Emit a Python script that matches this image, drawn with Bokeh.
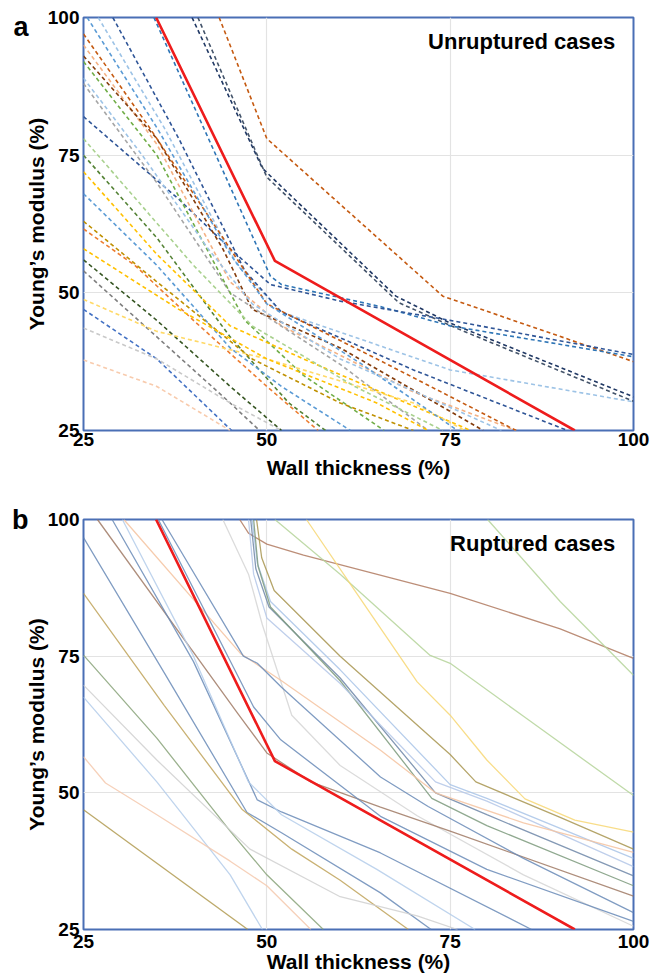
from bokeh.plotting import figure
from bokeh.layouts import column
from bokeh.models import Range1d, FixedTicker, Label, LinearAxis
from bokeh.embed import file_html
from bokeh.resources import INLINE

# ---------------- data ----------------
TICKS = [25, 50, 75, 100]
X_TITLE = "Wall thickness (%)"
Y_TITLE = "Young\u2019s modulus (%)"

# reference (red) curve, shared by both panels
RED_X = [34.9, 51.1, 92.0]
RED_Y = [100.0, 55.8, 25.0]

# panel a: unruptured cases (dashed)
UNRUPT_X = [
    [43.5, 50, 74, 100],
    [39.8, 49.4, 67.6, 75, 100],
    [40.6, 50, 68, 76, 100],
    [34.6, 50.5, 52, 65.5, 75, 100],
    [25, 38, 45, 50.5, 60, 75, 100],
    [27, 36, 46, 52, 75, 100],
    [29, 38, 47, 52, 70, 91],
    [25, 35, 45, 52, 70, 84],
    [25, 35, 44, 48, 60, 79.5],
    [25, 35, 45, 60, 72],
    [25, 35, 45, 47, 55, 66],
    [25, 35, 45, 53, 58],
    [25, 35, 45, 55, 77.8],
    [25, 35, 45, 52, 61.4],
    [25, 32, 40, 50, 57],
    [25, 35, 45, 52],
    [25, 35, 45, 49],
    [25, 35, 50, 70, 77],
    [25, 35, 45.2],
    [25, 35, 45, 52],
    [25, 35, 45],
    [25, 35, 48, 60, 70],
    [25, 40, 48, 62, 74],
    [25, 34, 45, 50, 65, 84],
    [25.5, 35, 45, 50, 63, 76],
    [25, 33, 42, 48, 60, 72, 82],
    [25, 38, 50, 65, 72],
]
UNRUPT_Y = [
    [100, 78, 49.4, 37.5],
    [100, 72.6, 49.4, 44.5, 31.1],
    [100, 71, 48.2, 43.5, 30.3],
    [100, 53, 51.5, 47.5, 44, 38.4],
    [82, 67, 58, 51.5, 48.5, 45, 38.8],
    [100, 80, 55, 46.5, 36, 30.2],
    [100, 78, 54, 46.5, 36, 25],
    [95, 77, 52, 44, 32, 25],
    [93, 78, 58, 47, 40, 25],
    [88, 70, 50, 37, 25],
    [92, 75, 50, 45, 35, 25],
    [75, 60, 42, 30, 25],
    [72, 57, 44, 38, 25],
    [68, 55, 40, 33, 25],
    [61.6, 55, 45, 33, 25],
    [56, 45, 33, 25],
    [54, 42, 30, 25],
    [48.8, 43, 38, 30, 25],
    [47, 38, 25],
    [43.6, 38, 30, 25],
    [37.8, 33, 25],
    [63, 52, 38, 30, 25],
    [78, 55, 44, 33, 25],
    [97, 80, 58, 48, 38, 25],
    [100, 80, 57, 48, 37, 25],
    [89, 75, 58, 48, 38, 31, 25],
    [58, 47, 38, 30, 25],
]
UNRUPT_COLORS = [
    "#C55A11", "#203864", "#44546A", "#2E75B6", "#2F5597", "#9DC3E6",
    "#2F5597", "#F4B183", "#843C0C", "#A5A5A5", "#70AD47", "#548235",
    "#FFC000", "#5B9BD5", "#ED7D31", "#375623", "#7F7F7F", "#FFD966",
    "#4472C4", "#C9C9C9", "#F8CBAD", "#BF9000", "#A9D18E", "#C55A11",
    "#5B9BD5", "#9DC3E6", "#FFC000",
]

# panel b: ruptured cases (solid)
RUPT_X = [
    [46.3, 47.5, 50, 55, 75, 90, 100],
    [51.1, 60, 72.2, 75, 85, 100],
    [80.1, 90, 100],
    [55.4, 62, 70.5, 75, 80, 85.2, 92, 100],
    [48.6, 49.3, 51, 60, 75, 78.5, 90, 100],
    [48.0, 48.7, 50.5, 60, 75, 80, 100],
    [47.8, 48.5, 50.3, 60, 73, 80, 100],
    [48.2, 48.8, 50.5, 60, 72.5, 80, 100],
    [47.5, 48.2, 50, 60, 73, 80, 100],
    [44, 47.5, 49.4, 53.4, 60, 70.5, 85, 100],
    [30.5, 46.4, 52, 65.5, 73, 85, 100],
    [26.9, 46, 50, 56, 65.5, 75, 100],
    [35.7, 46.8, 48.7, 52, 65.5, 72, 85, 100],
    [35.2, 48.2, 51.9, 65.5, 80, 100],
    [28.9, 40, 48.7, 52, 65.5, 86.1],
    [25, 36, 47.3, 52, 65.5, 72.4],
    [30.3, 40, 47.5, 52, 65, 78.4],
    [25, 35, 45, 49.4],
    [25, 28, 35, 45, 50, 56],
    [25, 36, 46.6, 53.4, 60, 69.3],
    [25, 35, 45, 50, 57.7],
    [25, 35, 47.7, 60, 70.5, 76],
    [25, 47.4],
]
RUPT_Y = [
    [100, 97.5, 95.5, 93.5, 86.5, 80, 74.6],
    [100, 90, 75.2, 73.7, 64, 49.5],
    [100, 85, 71.5],
    [100, 87, 70.3, 64.2, 56, 48.9, 45, 42.8],
    [100, 93, 87, 75, 57, 52, 45.5, 39.7],
    [100, 92, 85, 72.5, 51.5, 49, 38.0],
    [100, 91, 84, 71, 50, 46, 34.8],
    [100, 91.5, 84, 70.5, 49, 44, 33],
    [100, 90, 82, 70, 52, 48.5, 36.5],
    [100, 90, 80.7, 64.2, 55, 45.8, 35, 25.6],
    [100, 75.5, 70.5, 57.8, 50, 44.5, 39.1],
    [100, 64.6, 57.3, 52, 47.4, 43, 31.1],
    [100, 75, 73.7, 69.3, 52.9, 47.5, 38, 28.1],
    [100, 65.7, 59.7, 45.7, 36, 26.5],
    [100, 74, 48.7, 46.5, 39, 25],
    [96.7, 72, 46.4, 42.7, 31.7, 25],
    [100, 75, 52, 46, 36, 25],
    [67.5, 52, 35, 25],
    [56.6, 51.8, 46, 37.5, 33, 25],
    [86.5, 66, 47, 39.7, 34, 25],
    [75.2, 60, 43, 35, 25],
    [69.7, 56, 39.7, 31, 27.5, 25],
    [46.9, 25],
]
RUPT_COLORS = [
    "#B07A60", "#B5D49A", "#B5D49A", "#F7D774", "#A89550", "#A9C4E8",
    "#6F87A8", "#7C9A7C", "#B4C7E7", "#D5D5D5", "#F5C3A0", "#A07A65",
    "#6A8BB7", "#6A8BB7", "#6A8BB7", "#6A8BB7", "#B4CCEA", "#B4CCEA",
    "#F5C9AE", "#BFA35A", "#8AA37A", "#D0D0D0", "#B09A50",
]

FONT = "Liberation Sans"
FRAME_BLUE = "#4A6FB5"


def make_panel(height, top, bottom, xs, ys, colors, dashed, note,
               letter, letter_y, xtitle_standoff, xlabel_standoff):
    p = figure(width=654, height=height, output_backend="svg",
               toolbar_location=None, x_range=Range1d(25, 100),
               y_range=Range1d(25, 100),
               min_border_left=83, min_border_right=21,
               min_border_top=top, min_border_bottom=bottom)
    p.outline_line_color = FRAME_BLUE
    p.outline_line_width = 2
    p.background_fill_color = "white"
    p.border_fill_color = "white"
    for ax in (p.xaxis, p.yaxis):
        ax.ticker = FixedTicker(ticks=TICKS)
        ax.axis_line_color = None
        ax.major_tick_line_color = None
        ax.minor_tick_line_color = None
        ax.major_tick_out = 0
        ax.major_tick_in = 0
        ax.minor_tick_out = 0
        ax.major_label_text_font = FONT
        ax.major_label_text_font_style = "bold"
        ax.major_label_text_font_size = "19px"
        ax.major_label_text_color = "black"
        ax.axis_label_text_font = FONT
        ax.axis_label_text_font_style = "bold"
        ax.axis_label_text_font_size = "21px"
        ax.axis_label_text_color = "black"
    p.xaxis.axis_label = X_TITLE
    p.yaxis.axis_label = Y_TITLE
    p.xaxis.major_label_standoff = xlabel_standoff
    p.yaxis.major_label_standoff = 4
    p.xaxis.axis_label_standoff = xtitle_standoff
    p.yaxis.axis_label_standoff = -3
    for g in (p.xgrid, p.ygrid):
        g.ticker = FixedTicker(ticks=TICKS)
        g.grid_line_color = "#E3E3E3"
        g.grid_line_width = 1.2

    for x, y, c in zip(xs, ys, colors):
        if dashed:
            p.line(x, y, line_color=c, line_width=1.6, line_dash="4 3")
        else:
            p.line(x, y, line_color=c, line_width=1.3, line_alpha=0.85)
    p.line(RED_X, RED_Y, line_color="#EE1C1C", line_width=2.6)

    p.add_layout(Label(x=97.5, y=95.6, text=note, text_align="right",
                       text_baseline="middle", text_font=FONT,
                       text_font_style="bold", text_font_size="22px",
                       text_color="black"))

    # panel letter, drawn as the single label of an extra outer left axis
    lax = LinearAxis(ticker=FixedTicker(ticks=[letter_y]),
                     major_label_overrides={letter_y: letter})
    lax.axis_line_color = None
    lax.major_tick_line_color = None
    lax.minor_tick_line_color = None
    lax.major_tick_out = 0
    lax.major_tick_in = 0
    lax.minor_tick_out = 0
    lax.major_label_text_font = FONT
    lax.major_label_text_font_style = "bold"
    lax.major_label_text_font_size = "27px"
    lax.major_label_text_color = "black"
    lax.major_label_text_baseline = "alphabetic"
    lax.major_label_standoff = -7
    p.add_layout(lax, "left")
    return p


pa = make_panel(490, 17, 60, UNRUPT_X, UNRUPT_Y, UNRUPT_COLORS, True,
                "Unruptured cases", "a", 98.2, 7, 2)
pb = make_panel(485, 29, 46, RUPT_X, RUPT_Y, RUPT_COLORS, False,
                "Ruptured cases", "b", 100, -1, 5)

layout = column(pa, pb, spacing=0)
open("out.html", "w").write(file_html(layout, INLINE))
